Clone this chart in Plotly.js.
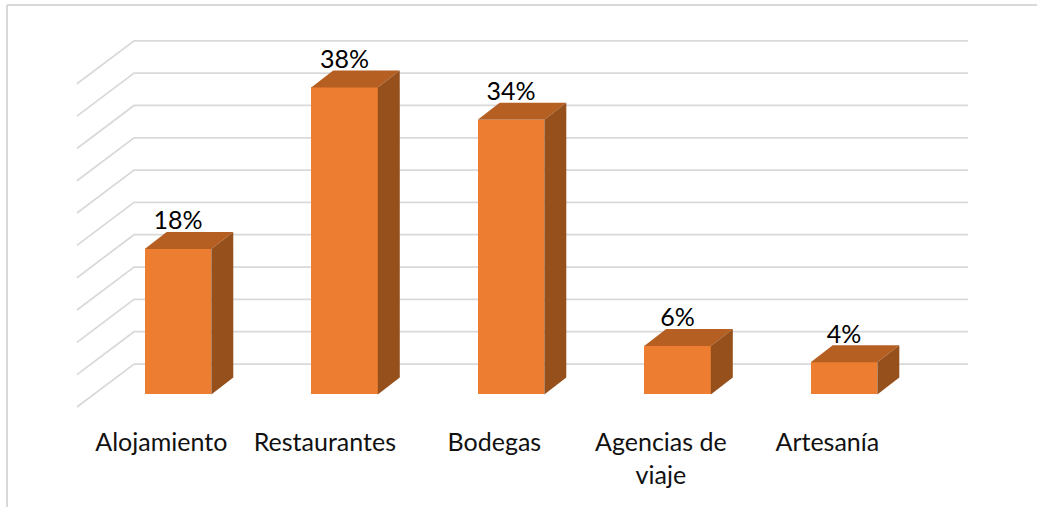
<!DOCTYPE html>
<html>
<head>
<meta charset="utf-8">
<script src="https://cdn.plot.ly/plotly-3.0.1.min.js"></script>
<style>html,body{margin:0;padding:0;background:#fff;overflow:hidden}#chart{width:1037px;height:507px}</style>
</head>
<body>
<div id="chart"></div>
<script>
const categories = ['Alojamiento', 'Restaurantes', 'Bodegas', 'Agencias de<br>viaje', 'Artesanía'];
const shares = [18, 38, 34, 6, 4];
const gridLevels = [0, 4, 8, 12, 16, 20, 24, 28, 32, 36, 40];

const FONT = 'Lato, Carlito, Calibri, sans-serif';
const barHalf = 0.2, depthX = 0.132, depthY = 2.1;
const wallLeft = -0.607, wallBack = -0.264, wallRight = 4.745;
const wallFront = -1.55, wallRise = 3.77;
const labelShifts = [-0.1, -0.118, -0.1, -0.1, -0.1], labelLift = 3.2;
const idx = categories.map((_, i) => i);

const traces = [];
// wall and floor gridlines, on the lower axes so the bars cover them
gridLevels.forEach(v => traces.push({
  type: 'scatter', mode: 'lines', xaxis: 'x', yaxis: 'y', hoverinfo: 'skip', showlegend: false,
  x: [wallLeft, wallBack, wallRight],
  y: [v + wallFront, v + wallRise, v + wallRise],
  line: {color: '#D9D9D9', width: 1.75}
}));
// bar fronts
traces.push({
  type: 'bar', xaxis: 'x2', yaxis: 'y2', x: idx, y: shares, width: barHalf * 2, showlegend: false,
  marker: {color: '#ED7D31', line: {width: 0}}
});
// top and side faces
idx.forEach(i => {
  const l = i - barHalf, r = i + barHalf, v = shares[i];
  traces.push({
    type: 'scatter', mode: 'lines', fill: 'toself', xaxis: 'x2', yaxis: 'y2', showlegend: false, hoverinfo: 'skip',
    x: [l, r, r + depthX, l + depthX, l], y: [v, v, v + depthY, v + depthY, v],
    fillcolor: '#B65F23', line: {width: 0, color: '#B65F23'}
  });
  traces.push({
    type: 'scatter', mode: 'lines', fill: 'toself', xaxis: 'x2', yaxis: 'y2', showlegend: false, hoverinfo: 'skip',
    x: [r, r + depthX, r + depthX, r, r], y: [0, depthY, v + depthY, v, 0],
    fillcolor: '#95501C', line: {width: 0, color: '#95501C'}
  });
});
// data labels
traces.push({
  type: 'scatter', mode: 'text', xaxis: 'x2', yaxis: 'y2', showlegend: false, hoverinfo: 'skip',
  x: idx, y: shares.map(v => v + labelLift), text: shares.map(v => v + '%'),
  textposition: 'middle center', textfont: {family: FONT, size: 25, color: '#000'}, cliponaxis: false
});

const xRange = [-1.069, 5.159];
const yRange = [-3.16, 48.82];
const layout = {
  width: 1037, height: 507, paper_bgcolor: '#fff', plot_bgcolor: 'rgba(0,0,0,0)',
  margin: {l: 0, r: 0, t: 0, b: 87, pad: 0}, showlegend: false, bargap: 0,
  font: {family: FONT, size: 25, color: '#000'},
  xaxis: {
    range: xRange, showgrid: false, zeroline: false, showline: false, ticks: '',
    tickmode: 'array', tickvals: idx.map(i => i + labelShifts[i]), ticktext: categories,
    tickfont: {family: FONT, size: 25, color: '#111'}, ticklabelstandoff: 5, fixedrange: true
  },
  yaxis: {range: yRange, showgrid: false, zeroline: false, showline: false, showticklabels: false, fixedrange: true},
  xaxis2: {range: xRange, overlaying: 'x', showgrid: false, zeroline: false, showline: false, showticklabels: false, fixedrange: true},
  yaxis2: {range: yRange, overlaying: 'y', showgrid: false, zeroline: false, showline: false, showticklabels: false, fixedrange: true},
  shapes: [
    {type: 'line', xref: 'paper', yref: 'paper', x0: 7 / 1037, x1: 1, y0: 1 - 5 / 420, y1: 1 - 5 / 420, line: {color: '#D9D9D9', width: 2}},
    {type: 'line', xref: 'paper', yref: 'paper', x0: 7 / 1037, x1: 7 / 1037, y0: 1 - 5 / 420, y1: -87 / 420, line: {color: '#D9D9D9', width: 2}}
  ]
};
Plotly.newPlot('chart', traces, layout, {displayModeBar: false, staticPlot: true});
</script>
</body>
</html>
